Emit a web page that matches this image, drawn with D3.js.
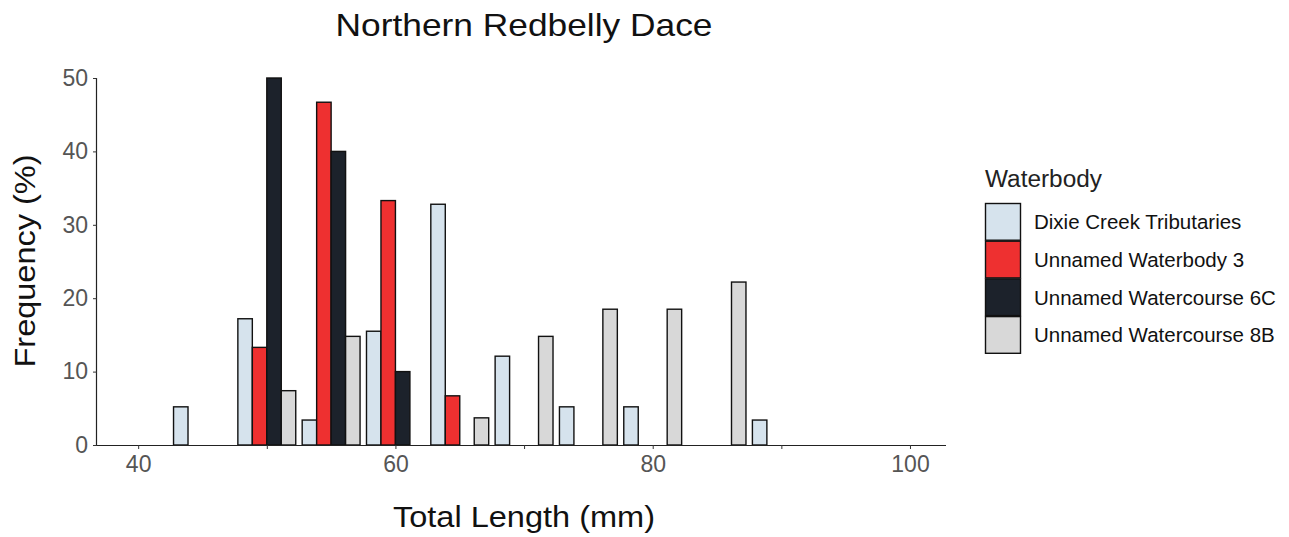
<!DOCTYPE html>
<html>
<head>
<meta charset="utf-8">
<script src="https://cdn.jsdelivr.net/npm/d3@7"></script>
<style>
  html, body { margin: 0; padding: 0; background: #fff; }
  svg { display: block; font-family: "Liberation Sans", Arial, sans-serif; }
</style>
</head>
<body>
<svg id="chart" width="1289" height="537"></svg>
<script>
// ---- data ----
const title = "Northern Redbelly Dace";
const xTitle = "Total Length (mm)";
const yTitle = "Frequency (%)";
const legendTitle = "Waterbody";
const seriesNames = ["Dixie Creek Tributaries", "Unnamed Waterbody 3", "Unnamed Watercourse 6C", "Unnamed Watercourse 8B"];
const seriesColors = ["#d6e3ed", "#ee3030", "#1c222b", "#d8d8d8"];
const bins = [45, 50, 55, 60, 65, 70, 75, 80, 85, 90];
const dixieCreek = [5.2, 17.2, 3.4, 15.5, 32.8, 12.1, 5.2, 5.2, 0, 3.4];
const waterbody3 = [0, 13.3, 46.7, 33.3, 6.7, 0, 0, 0, 0, 0];
const watercourse6C = [0, 50, 40, 10, 0, 0, 0, 0, 0, 0];
const watercourse8B = [0, 7.4, 14.8, 0, 3.7, 14.8, 18.5, 18.5, 22.2, 0];
const xTicks = [40, 50, 60, 70, 80, 90, 100];
const xTickLabels = ["40", "", "60", "", "80", "", "100"];
const yTicks = [0, 10, 20, 30, 40, 50];
const binWidth = 5;

const seriesValues = [dixieCreek, waterbody3, watercourse6C, watercourse8B];

// ---- layout ----
const svg = d3.select("#chart");
const plot = { left: 97, right: 946, top: 78, bottom: 445 };

const x = d3.scaleLinear().domain([36.8, 102.8]).range([plot.left, plot.right]);
const y = d3.scaleLinear().domain([0, 50]).range([plot.bottom, plot.top]);

// dodge within each bin (4 slots, 90% of bin width)
const slot = d3.scaleBand()
  .domain(d3.range(seriesNames.length))
  .range([-binWidth * 0.45, binWidth * 0.45])
  .padding(0);

const bars = [];
seriesValues.forEach((vals, si) => {
  vals.forEach((v, bi) => {
    if (v > 0) bars.push({ s: si, bin: bins[bi], v });
  });
});

svg.append("g").selectAll("rect").data(bars).join("rect")
  .attr("x", d => x(d.bin + slot(d.s)))
  .attr("width", d => x(d.bin + slot(d.s) + slot.bandwidth()) - x(d.bin + slot(d.s)))
  .attr("y", d => y(d.v))
  .attr("height", d => y(0) - y(d.v))
  .attr("fill", d => seriesColors[d.s])
  .attr("stroke", "#111")
  .attr("stroke-width", 1.4);

// axes
const xAxis = d3.axisBottom(x).tickValues(xTicks).tickFormat((d, i) => xTickLabels[i]).tickSize(4).tickPadding(7);
const gx = svg.append("g").attr("transform", `translate(0,${plot.bottom})`).call(xAxis);
gx.select(".domain").attr("d", `M${plot.left},0.5H${plot.right}`).attr("stroke", "#222").attr("stroke-width", 1.2);
gx.selectAll(".tick line").attr("stroke", "#333");
gx.selectAll(".tick text").attr("font-size", 23).attr("fill", "#555")
  .attr("font-family", "'Liberation Sans', Arial, sans-serif");

const yAxis = d3.axisLeft(y).tickValues(yTicks).tickSize(4).tickPadding(5);
const gy = svg.append("g").attr("transform", `translate(${plot.left},0)`).call(yAxis);
gy.select(".domain").attr("d", `M-0.5,${plot.top}V${plot.bottom}`).attr("stroke", "#222").attr("stroke-width", 1.2);
gy.selectAll(".tick line").attr("stroke", "#333");
gy.selectAll(".tick text").attr("font-size", 23).attr("fill", "#555")
  .attr("font-family", "'Liberation Sans', Arial, sans-serif");

// titles
svg.append("text").attr("x", 524).attr("y", 36).attr("text-anchor", "middle")
  .attr("font-size", 32).attr("fill", "#111")
  .attr("textLength", 377).attr("lengthAdjust", "spacingAndGlyphs")
  .text(title);

svg.append("text").attr("x", 524).attr("y", 527).attr("text-anchor", "middle")
  .attr("font-size", 30).attr("fill", "#111")
  .attr("textLength", 262).attr("lengthAdjust", "spacingAndGlyphs")
  .text(xTitle);

svg.append("text").attr("transform", "translate(35,261) rotate(-90)").attr("text-anchor", "middle")
  .attr("font-size", 30).attr("fill", "#111")
  .attr("textLength", 213).attr("lengthAdjust", "spacingAndGlyphs")
  .text(yTitle);

// legend
const lg = svg.append("g").attr("transform", "translate(985,0)");
lg.append("text").attr("x", 0).attr("y", 187).attr("font-size", 23).attr("fill", "#222")
  .attr("textLength", 117).attr("lengthAdjust", "spacingAndGlyphs").text(legendTitle);
const keyH = 37.7;
const items = lg.selectAll("g.item").data(seriesNames).join("g").attr("class", "item")
  .attr("transform", (d, i) => `translate(0,${203 + i * keyH})`);
items.append("rect").attr("x", 0.5).attr("y", 0.5).attr("width", 35).attr("height", keyH - 1)
  .attr("fill", (d, i) => seriesColors[i]).attr("stroke", "#111").attr("stroke-width", 1.4);
items.append("text").attr("x", 49).attr("y", keyH / 2 + 7.5).attr("font-size", 20.5).attr("fill", "#111").text(d => d);
</script>
</body>
</html>
